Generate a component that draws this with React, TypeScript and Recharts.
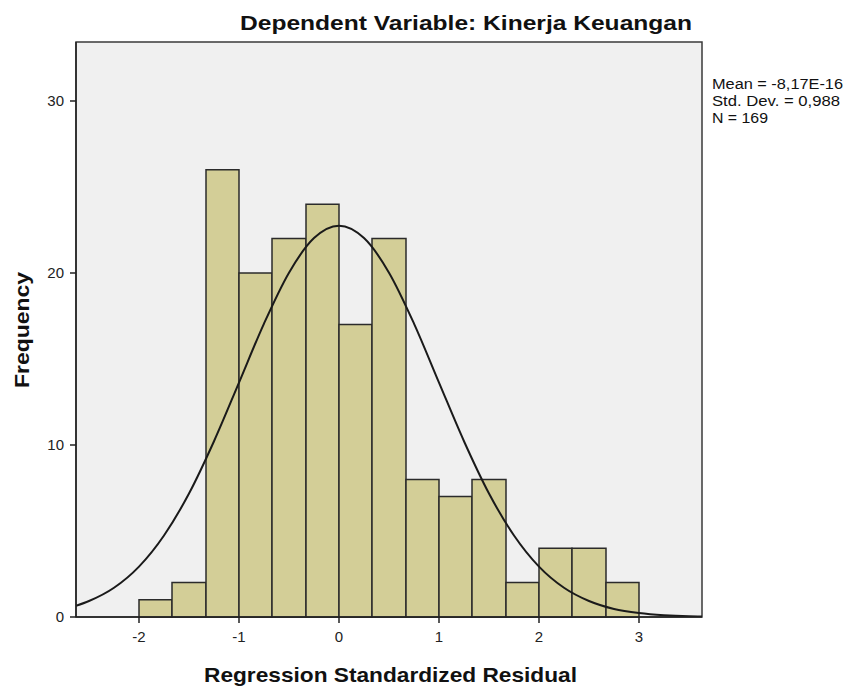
import React from "react";
import {
  ComposedChart,
  Line,
  XAxis,
  YAxis,
  ReferenceArea,
  CartesianGrid,
} from "recharts";

// Histogram bins (edges) and frequencies
const binEdges = [-2.0, -1.67, -1.33, -1.0, -0.67, -0.33, 0.0, 0.33, 0.67, 1.0, 1.33, 1.67, 2.0, 2.33, 2.67, 3.0];
const frequencies = [1, 2, 26, 20, 22, 24, 17, 22, 8, 7, 8, 2, 4, 4, 2];

// Normal curve
const curveX = [-2.63, -2.5, -2.25, -2.0, -1.75, -1.5, -1.25, -1.0, -0.75, -0.5, -0.25, 0.0, 0.25, 0.5, 0.75, 1.0, 1.25, 1.5, 1.75, 2.0, 2.25, 2.5, 2.75, 3.0, 3.25, 3.5, 3.63];
const curveY = [0.65, 0.93, 1.7, 2.93, 4.74, 7.18, 10.22, 13.63, 17.06, 20.02, 22.03, 22.75, 22.03, 20.02, 17.06, 13.63, 10.22, 7.18, 4.74, 2.93, 1.7, 0.93, 0.47, 0.23, 0.1, 0.04, 0.03];

const xTicks = [-2, -1, 0, 1, 2, 3];
const yTicks = [0, 10, 20, 30];
const xDomain = [-2.63, 3.63];
const yDomain = [0, 33.43];

const titleText = "Dependent Variable: Kinerja Keuangan";
const xLabel = "Regression Standardized Residual";
const yLabel = "Frequency";
const statsLines = ["Mean = -8,17E-16", "Std. Dev. = 0,988", "N = 169"];
const statsWidths = [131, 128, 56];

const curveData = curveX.map((x, i) => ({ x, y: curveY[i] }));
const bins = frequencies.map((f, i) => ({ lo: binEdges[i], hi: binEdges[i + 1], f }));

const FONT = "'Liberation Sans', Arial, sans-serif";

export default function App() {
  return (
    <div style={{ position: "absolute", left: 0, top: 0, width: 847, height: 689, background: "#fff" }}>
      <ComposedChart
        width={847}
        height={689}
        data={curveData}
        margin={{ top: 42, right: 145, bottom: 42, left: 36 }}
      >
        <CartesianGrid horizontal={false} vertical={false} fill="#f0f0f0" />
        <XAxis
          dataKey="x"
          type="number"
          domain={xDomain}
          ticks={xTicks}
          allowDataOverflow
          height={30}
          tickSize={6}
          tickMargin={8}
          stroke="#222"
          strokeWidth={1.5}
          fontSize={15}
          fontFamily={FONT}
          tick={{ fill: "#222", fontSize: 15, fontFamily: FONT }}
        />
        <YAxis
          type="number"
          domain={yDomain}
          ticks={yTicks}
          allowDataOverflow
          width={40}
          tickSize={6}
          tickMargin={6}
          stroke="#222"
          strokeWidth={1.5}
          fontSize={15}
          fontFamily={FONT}
          tick={{ fill: "#222", fontSize: 15, fontFamily: FONT }}
        />
        <ReferenceArea
          x1={xDomain[0]}
          x2={xDomain[1]}
          y1={yDomain[0]}
          y2={yDomain[1]}
          fill="none"
          stroke="#3a3a3a"
          strokeWidth={1.5}
          ifOverflow="extendDomain"
        />
        {bins.map((b, i) => (
          <ReferenceArea
            key={i}
            x1={b.lo}
            x2={b.hi}
            y1={0}
            y2={b.f}
            fill="#d3ce97"
            fillOpacity={1}
            stroke="#2b2b2b"
            strokeWidth={1.5}
            strokeOpacity={1}
          />
        ))}
        <Line
          dataKey="y"
          type="monotone"
          dot={false}
          stroke="#1a1a1a"
          strokeWidth={2}
          isAnimationActive={false}
        />
      </ComposedChart>
      <svg
        width={847}
        height={689}
        style={{ position: "absolute", left: 0, top: 0, pointerEvents: "none" }}
      >
        <text
          x={240}
          y={30}
          fontFamily={FONT}
          fontWeight="bold"
          fontSize={21}
          fill="#111"
          textLength={452}
          lengthAdjust="spacingAndGlyphs"
        >
          {titleText}
        </text>
        {statsLines.map((s, i) => (
          <text
            key={i}
            x={712}
            y={89 + i * 17}
            fontFamily={FONT}
            fontSize={14}
            fill="#111"
            textLength={statsWidths[i]}
            lengthAdjust="spacingAndGlyphs"
          >
            {s}
          </text>
        ))}
        <text
          x={204}
          y={682}
          fontFamily={FONT}
          fontWeight="bold"
          fontSize={21}
          fill="#111"
          textLength={373}
          lengthAdjust="spacingAndGlyphs"
        >
          {xLabel}
        </text>
        <text
          transform="translate(29,388) rotate(-90)"
          x={0}
          y={0}
          fontFamily={FONT}
          fontWeight="bold"
          fontSize={20}
          fill="#111"
          textLength={116}
          lengthAdjust="spacingAndGlyphs"
        >
          {yLabel}
        </text>
      </svg>
    </div>
  );
}
